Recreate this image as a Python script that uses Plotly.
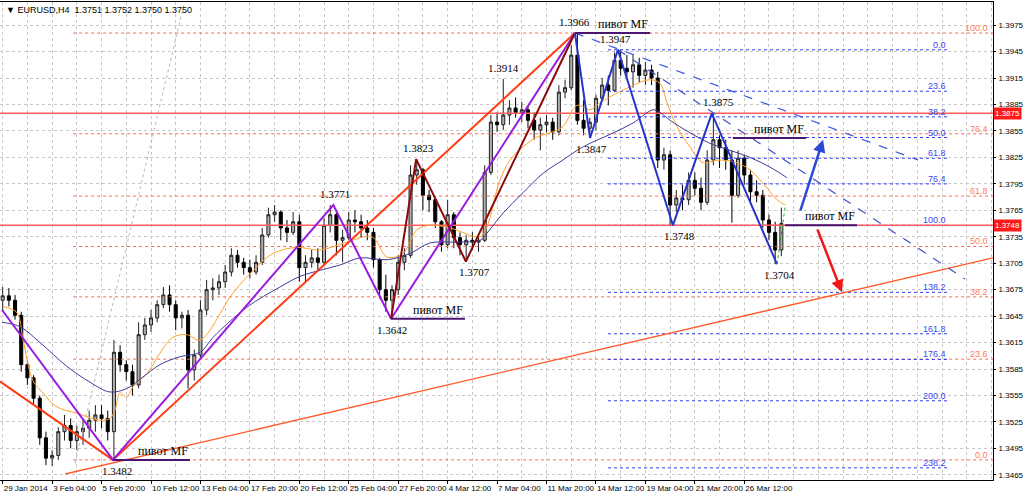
import plotly.graph_objects as go

# ---------------- data ----------------
# candles: one candle per two H4 bars, x = bar index
bar_index = list(range(0, 253, 2))
first_open = 1.3663
closes = [1.3668, 1.3663, 1.3646, 1.3590, 1.3575, 1.3552, 1.3507, 1.3484, 1.3487, 1.3514,
          1.3521, 1.3504, 1.3514, 1.3518, 1.3527, 1.3533, 1.3529, 1.3514, 1.3604, 1.3590,
          1.3582, 1.3567, 1.3624, 1.3635, 1.3643, 1.3658, 1.3669, 1.3658, 1.3643, 1.3646,
          1.3584, 1.3601, 1.3652, 1.3675, 1.3677, 1.3684, 1.3695, 1.3714, 1.3706, 1.3700,
          1.3695, 1.3706, 1.3737, 1.3760, 1.3763, 1.3745, 1.3740, 1.3752, 1.3700, 1.3706,
          1.3711, 1.3706, 1.3748, 1.3760, 1.3731, 1.3734, 1.3754, 1.3752, 1.3745, 1.3740,
          1.3709, 1.3675, 1.3663, 1.3675, 1.3706, 1.3714, 1.3805, 1.3811, 1.3782, 1.3777,
          1.3752, 1.3726, 1.3760, 1.3734, 1.3726, 1.3731, 1.3729, 1.3731, 1.3808, 1.3865,
          1.3862, 1.3873, 1.3881, 1.3876, 1.3879, 1.3867, 1.3856, 1.3862, 1.3865, 1.3854,
          1.3899, 1.3904, 1.3941, 1.3867, 1.3858, 1.3865, 1.3892, 1.3907, 1.3901, 1.3935,
          1.3926, 1.3922, 1.3930, 1.3918, 1.3924, 1.3915, 1.3822, 1.3828, 1.3771, 1.3779,
          1.3777, 1.3799, 1.3790, 1.3774, 1.3822, 1.3845, 1.3836, 1.3822, 1.3782, 1.3824,
          1.3805, 1.3786, 1.3782, 1.3754, 1.3740, 1.3720, 1.3750]
highs = [1.3678, 1.3677, 1.3669, 1.3650, 1.3595, 1.3578, 1.3555, 1.3514, 1.3493, 1.3519,
         1.3533, 1.3529, 1.3521, 1.3529, 1.3538, 1.3544, 1.3544, 1.3538, 1.3618, 1.3612,
         1.3595, 1.3590, 1.3638, 1.3643, 1.3652, 1.3663, 1.3678, 1.3680, 1.3663, 1.3650,
         1.3652, 1.3607, 1.3663, 1.3686, 1.3688, 1.3692, 1.3703, 1.3722, 1.3720, 1.3711,
         1.3709, 1.3714, 1.3745, 1.3768, 1.3771, 1.3765, 1.3754, 1.3763, 1.3760, 1.3714,
         1.3720, 1.3722, 1.3756, 1.3771, 1.3765, 1.3743, 1.3763, 1.3765, 1.3760, 1.3754,
         1.3745, 1.3711, 1.3692, 1.3680, 1.3714, 1.3722, 1.3816, 1.3823, 1.3813, 1.3788,
         1.3779, 1.3754, 1.3777, 1.3763, 1.3740, 1.3737, 1.3740, 1.3737, 1.3816, 1.3873,
         1.3876, 1.3914, 1.3890, 1.3893, 1.3888, 1.3884, 1.3876, 1.3870, 1.3873, 1.3870,
         1.3907, 1.3913, 1.3952, 1.3966, 1.3890, 1.3870, 1.3896, 1.3915, 1.3918, 1.3944,
         1.3947, 1.3941, 1.3941, 1.3938, 1.3933, 1.3930, 1.3922, 1.3836, 1.3833, 1.3788,
         1.3794, 1.3808, 1.3808, 1.3802, 1.3833, 1.3875, 1.3850, 1.3845, 1.3833, 1.3833,
         1.3828, 1.3811, 1.3799, 1.3788, 1.3760, 1.3752, 1.3768]
lows = [1.3650, 1.3656, 1.3641, 1.3582, 1.3567, 1.3544, 1.3499, 1.3476, 1.3475, 1.3482,
        1.3504, 1.3495, 1.3493, 1.3499, 1.3507, 1.3514, 1.3518, 1.3504, 1.3482, 1.3582,
        1.3572, 1.3555, 1.3563, 1.3618, 1.3627, 1.3638, 1.3654, 1.3650, 1.3629, 1.3631,
        1.3563, 1.3572, 1.3597, 1.3646, 1.3663, 1.3669, 1.3677, 1.3690, 1.3700, 1.3692,
        1.3688, 1.3692, 1.3703, 1.3734, 1.3752, 1.3731, 1.3729, 1.3737, 1.3684, 1.3684,
        1.3700, 1.3697, 1.3703, 1.3740, 1.3714, 1.3706, 1.3731, 1.3740, 1.3734, 1.3731,
        1.3700, 1.3665, 1.3650, 1.3642, 1.3669, 1.3697, 1.3711, 1.3794, 1.3765, 1.3763,
        1.3745, 1.3718, 1.3722, 1.3722, 1.3714, 1.3707, 1.3720, 1.3718, 1.3729, 1.3805,
        1.3854, 1.3856, 1.3862, 1.3870, 1.3865, 1.3858, 1.3845, 1.3833, 1.3853, 1.3845,
        1.3850, 1.3892, 1.3901, 1.3862, 1.3850, 1.3847, 1.3856, 1.3890, 1.3884, 1.3899,
        1.3918, 1.3913, 1.3904, 1.3910, 1.3907, 1.3907, 1.3813, 1.3811, 1.3748, 1.3763,
        1.3765, 1.3771, 1.3782, 1.3765, 1.3771, 1.3816, 1.3813, 1.3811, 1.3751, 1.3779,
        1.3794, 1.3774, 1.3774, 1.3745, 1.3731, 1.3704, 1.3713]
opens = [first_open] + closes[:-1]

# moving averages (read points)
ma_fast_x = [0, 4.6, 6.6, 9.8, 13, 17.6, 24, 31.5, 34.7, 36.3, 38, 40.2, 42.2, 46.7, 50.9, 55.1,
             59.6, 63.9, 74.5, 82.3, 87.5, 95.2, 102.7, 111.4, 119.5, 124.4, 129.5, 134.1, 138.3,
             144.8, 154.5, 156.7, 160.9, 164.2, 168.4, 172.9, 177.1, 181.3, 185.9, 190.1, 193.3,
             203, 209.5, 212.7, 215, 218.2, 222.4, 226.6, 231.5, 237.6, 241.8, 246, 250.6, 253.2]
ma_fast_y = [1.3656, 1.3649, 1.3618, 1.3572, 1.3558, 1.3542, 1.3535, 1.3527, 1.3529, 1.3538,
             1.3558, 1.3553, 1.3565, 1.3580, 1.3603, 1.3621, 1.3624, 1.3618, 1.3671, 1.3701,
             1.3716, 1.3723, 1.3720, 1.3729, 1.3735, 1.3712, 1.3716, 1.3743, 1.3748, 1.3745,
             1.3735, 1.3746, 1.3799, 1.3822, 1.3837, 1.3848, 1.3853, 1.3860, 1.3884, 1.3879,
             1.3887, 1.3905, 1.3913, 1.3909, 1.3887, 1.3860, 1.3837, 1.3819, 1.3822, 1.3819,
             1.3811, 1.3796, 1.3777, 1.3771]
ma_slow_x = [-0.2, 5.6, 12.1, 20.8, 28.3, 34.7, 40.2, 45.4, 50.9, 57.4, 63.9, 68.1, 79, 89.7,
             96.2, 102.7, 109.2, 115.6, 124.4, 131.8, 138.3, 147, 154.5, 156.7, 162, 168.4,
             174.9, 181.3, 185.9, 190.1, 196.5, 204, 210.5, 212.7, 216, 222.4, 228.9, 235.4,
             241.8, 248.3, 253.8]
ma_slow_y = [1.3638, 1.3633, 1.3615, 1.3588, 1.3570, 1.3559, 1.3563, 1.3576, 1.3590, 1.3599,
             1.3604, 1.3621, 1.3655, 1.3678, 1.3690, 1.3697, 1.3703, 1.3711, 1.3709, 1.3716,
             1.3728, 1.3729, 1.3731, 1.3739, 1.3762, 1.3785, 1.3807, 1.3822, 1.3833, 1.3841,
             1.3851, 1.3864, 1.3879, 1.3876, 1.3867, 1.3853, 1.3841, 1.3833, 1.3825, 1.3814,
             1.3802]

# zigzag swing points (bar, price)
zz_red_x = [-0.9, 35.7, 185.2]
zz_red_y = [1.3571, 1.3482, 1.3966]
zz_purple_x = [-0.2, 35.7, 107.0, 125.7, 185.2]
zz_purple_y = [1.3652, 1.3482, 1.3771, 1.3642, 1.3966]
zz_maroon_x = [125.7, 133.8, 149.9, 185.2]
zz_maroon_y = [1.3642, 1.3823, 1.3707, 1.3966]
zz_blue_x = [185.2, 190.1, 199.1, 216.9, 229.5, 250.6]
zz_blue_y = [1.3966, 1.3847, 1.3947, 1.3748, 1.3875, 1.3704]
zz_green_x = [250.6, 253.2]
zz_green_y = [1.3704, 1.3768]

# swing labels: (bar, price, text, above?)
swing_labels = [(185.2, 1.3966, "1.3966", True), (198.3, 1.3947, "1.3947", True),
                (162.0, 1.3914, "1.3914", True), (231.5, 1.3875, "1.3875", True),
                (134.5, 1.3823, "1.3823", True), (107.5, 1.3771, "1.3771", True),
                (190.5, 1.3847, "1.3847", False), (219.0, 1.3748, "1.3748", False),
                (152.8, 1.3707, "1.3707", False), (251.5, 1.3704, "1.3704", False),
                (126.0, 1.3642, "1.3642", False), (37.0, 1.3482, "1.3482", False)]

# "пивот MF" pivot lines: (start bar, end bar, price)
pivots = [(185.2, 209.5, 1.3966), (125.7, 149.6, 1.3642), (35.7, 60.6, 1.3482),
          (236.3, 260.0, 1.3847), (253.2, 276.5, 1.3748)]

# trendlines (bar0, price0, bar1, price1)
long_trend = (20.2, 1.3466, 320.5, 1.3711)
dash_trend1 = (185.2, 1.3966, 296.2, 1.3822)
dash_trend2 = (199.1, 1.3947, 311.4, 1.3687)
fib_diag = (23.4, 1.3478, 58.8, 1.4001)
arrow_up = (258.0, 1.3763, 265.5, 1.3845)
arrow_down = (263.5, 1.3745, 271.6, 1.3672)

# horizontal price lines
hlines = [1.3875, 1.3748]

# fibonacci grids
fib_red_levels = [0.0, 23.6, 38.2, 50.0, 61.8, 76.4, 100.0]
fib_red_low, fib_red_high = 1.3482, 1.3966
fib_red_start, fib_red_end, fib_red_label_bar = 22.8, 320.5, 319.6
fib_blue_levels = [0.0, 23.6, 38.2, 50.0, 61.8, 76.4, 100.0, 138.2, 161.8, 176.4, 200.0, 238.2]
fib_blue_p0, fib_blue_p100 = 1.3947, 1.3748
fib_blue_start, fib_blue_end = 195.9, 305.9

# axes
x_tick_bars = [0, 16, 32, 48, 64, 80, 96, 112, 128, 144, 160, 176, 192, 208, 224, 240]
x_tick_text = ["29 Jan 2014", "3 Feb 04:00", "5 Feb 20:00", "10 Feb 12:00", "13 Feb 04:00",
               "17 Feb 20:00", "20 Feb 12:00", "25 Feb 04:00", "27 Feb 20:00", "4 Mar 12:00",
               "7 Mar 04:00", "11 Mar 20:00", "14 Mar 12:00", "19 Mar 04:00", "21 Mar 20:00",
               "26 Mar 12:00"]
y_ticks = [1.3465, 1.3495, 1.3525, 1.3555, 1.3585, 1.3615, 1.3645, 1.3675, 1.3705,
           1.3735, 1.3765, 1.3795, 1.3825, 1.3855, 1.3885, 1.3915, 1.3945, 1.3975]
x_range = [-0.87, 320.5]
y_range = [1.34592, 1.40012]

header = "\u25bc EURUSD,H4  1.3751 1.3752 1.3750 1.3750"

# ---------------- figure ----------------
fig = go.Figure()
SERIF = "Liberation Serif"
SANS = "Liberation Sans"

def line(xs, ys, color, width=1.0, dash="solid", shape="linear"):
    fig.add_trace(go.Scatter(x=xs, y=ys, mode="lines", hoverinfo="skip",
                             line=dict(color=color, width=width, dash=dash, shape=shape)))

# fibonacci dotted levels (drawn under the candles)
for lv in fib_red_levels:
    p = fib_red_low + lv / 100.0 * (fib_red_high - fib_red_low)
    line([fib_red_start, fib_red_end], [p, p], "#ff6a4d", 1, "dot")
    fig.add_annotation(x=fib_red_label_bar, y=p, text=f"{lv:.1f}", showarrow=False,
                       xanchor="right", yanchor="bottom", yshift=-2,
                       font=dict(family=SANS, size=9, color="#ff7a5c"))
for lv in fib_blue_levels:
    p = fib_blue_p0 - lv / 100.0 * (fib_blue_p0 - fib_blue_p100)
    line([fib_blue_start, fib_blue_end], [p, p], "#2f3cf0", 1, "dot")
    fig.add_annotation(x=fib_blue_end, y=p, text=f"{lv:.1f}", showarrow=False,
                       xanchor="right", yanchor="bottom", yshift=-2,
                       font=dict(family=SANS, size=9, color="#3a48f0"))

# fib diagonal
line([fib_diag[0], fib_diag[2]], [fib_diag[1], fib_diag[3]], "#b8b8b8", 1, "dot")

# horizontal red lines
for h in hlines:
    line([x_range[0], x_range[1]], [h, h], "#ff5c5c", 1.5)

# candles
fig.add_trace(go.Candlestick(
    x=bar_index, open=opens, high=highs, low=lows, close=closes,
    increasing=dict(line=dict(color="#202020", width=1), fillcolor="#b0b0b0"),
    decreasing=dict(line=dict(color="#000000", width=1), fillcolor="#000000"),
    whiskerwidth=0, hoverinfo="skip"))

# moving averages
line(ma_fast_x, ma_fast_y, "#ffa028", 1, shape="spline")
line(ma_slow_x, ma_slow_y, "#3c3ca0", 1, shape="spline")

# trendlines
line([long_trend[0], long_trend[2]], [long_trend[1], long_trend[3]], "#ff5a2a", 1.3)
line([dash_trend1[0], dash_trend1[2]], [dash_trend1[1], dash_trend1[3]], "#3d55e8", 1.2, "dash")
line([dash_trend2[0], dash_trend2[2]], [dash_trend2[1], dash_trend2[3]], "#3d4fc8", 1.2, "dash")

# zigzags
line(zz_red_x, zz_red_y, "#ff3c14", 2)
line(zz_purple_x, zz_purple_y, "#9a1ae0", 2)
line(zz_maroon_x, zz_maroon_y, "#8b0a0a", 2)
line(zz_blue_x, zz_blue_y, "#2535c8", 2)
line(zz_green_x, zz_green_y, "#20a020", 1, "dot")

# pivot lines + text
for b0, b1, p in pivots:
    line([b0, b1], [p, p], "#4a1470", 2)
    fig.add_annotation(x=b1, y=p, text="пивот MF", showarrow=False, xanchor="right",
                       yanchor="bottom", yshift=0,
                       font=dict(family=SERIF, size=12, color="#000000"))

# swing labels
for b, p, t, above in swing_labels:
    fig.add_annotation(x=b, y=p, text=t, showarrow=False,
                       yanchor="bottom" if above else "top",
                       yshift=3 if above else -3,
                       font=dict(family=SERIF, size=11, color="#000000"))

# arrows
fig.add_annotation(x=arrow_up[2], y=arrow_up[3], ax=arrow_up[0], ay=arrow_up[1],
                   xref="x", yref="y", axref="x", ayref="y", text="", showarrow=True,
                   arrowhead=2, arrowsize=1, arrowwidth=2.5, arrowcolor="#2c48d8")
fig.add_annotation(x=arrow_down[2], y=arrow_down[3], ax=arrow_down[0], ay=arrow_down[1],
                   xref="x", yref="y", axref="x", ayref="y", text="", showarrow=True,
                   arrowhead=2, arrowsize=1, arrowwidth=2.5, arrowcolor="#f01818")

# price boxes on the axis
for h in hlines:
    fig.add_annotation(x=1.0, xref="paper", y=h, yref="y", text=f"{h:.4f}", showarrow=False,
                       xanchor="left", yanchor="middle", bgcolor="#ff1a1a", borderpad=1,
                       font=dict(family=SANS, size=8, color="#ffffff"))

# header
fig.add_annotation(x=0.004, y=0.998, xref="paper", yref="paper", text=header, showarrow=False,
                   xanchor="left", yanchor="top", font=dict(family=SANS, size=9, color="#000"))

grid = "#c8c8c8"
fig.update_layout(
    width=1024, height=495,
    margin=dict(l=0, r=31, t=2, b=15, autoexpand=False),
    paper_bgcolor="white", plot_bgcolor="white",
    showlegend=False,
    font=dict(family=SANS, size=8, color="#000000"),
    xaxis=dict(range=x_range, tickmode="array", tickvals=x_tick_bars, ticktext=x_tick_text,
               ticks="outside", ticklen=3, tickcolor="#000", ticklabelposition="outside right",
               tickangle=0, tickfont=dict(family=SANS, size=8), automargin=False,
               showgrid=True, gridcolor=grid, griddash="dot", gridwidth=1,
               minor=dict(tick0=0, dtick=8, showgrid=True, gridcolor=grid, griddash="dot"),
               showline=True, linecolor="#000", linewidth=1, mirror=True,
               zeroline=False, rangeslider=dict(visible=False), fixedrange=True),
    yaxis=dict(range=y_range, side="right", tickmode="array", tickvals=y_ticks,
               ticktext=[f"{v:.4f}" for v in y_ticks], ticks="outside", ticklen=2,
               ticklabelstandoff=1, tickfont=dict(family=SANS, size=8), automargin=False,
               tickcolor="#000", showgrid=True, gridcolor=grid, griddash="dot",
               showline=True, linecolor="#000", linewidth=1, mirror=True, zeroline=False,
               fixedrange=True),
)

fig.write_html("out.html", config={"displayModeBar": False},
               post_script="document.body.style.margin='0px';document.body.style.padding='0px';")
